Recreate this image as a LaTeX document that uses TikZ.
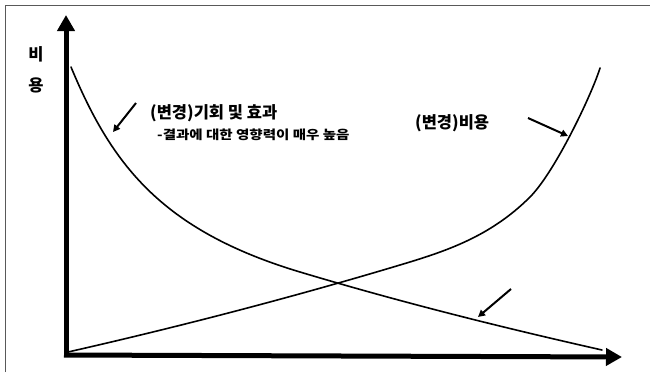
\documentclass[tikz,border=0pt]{standalone}
\usepackage{fontspec}
\usepackage{graphicx}
\setmainfont{Noto Sans CJK KR}[BoldFont={Noto Sans CJK KR Black}]
\usetikzlibrary{arrows.meta}
\begin{document}
\begin{tikzpicture}[x=1pt,y=-1pt,
  axis/.style={line width=5pt,-{Triangle[length=16pt,width=17pt]}},
  curve/.style={line width=1.6pt,line cap=round},
  pointer/.style={line width=2pt,-{Triangle[length=7pt,width=7pt]}},
  big/.style={font=\fontsize{16.5}{17}\selectfont\bfseries,inner sep=0pt},
  small/.style={font=\fontsize{12.5}{13}\selectfont\bfseries,inner sep=0pt},
  frame/.style={draw=black!65,line width=1pt}]
\useasboundingbox (0,0) rectangle (650,375);
\draw[frame] (5,372) -- (5,5) -- (650,5);
% axes
\coordinate (O) at (64,355);
\coordinate (Ybase) at (66,357);
\coordinate (Ytip) at (66,15);
\coordinate (Xtip) at (622,357);
\draw[axis] (Ybase) -- (Ytip);
\draw[axis] (O) -- (Xtip);
% curves
\coordinate (c1a) at (71,67);
\coordinate (c1b) at (300,272);
\coordinate (c1c) at (602,350);
\draw[curve] (c1a) .. controls (111,163) and (160,230) .. (c1b)
  .. controls (400,302) and (500,327) .. (c1c);
\coordinate (c2a) at (68,352);
\coordinate (c2b) at (400,265);
\coordinate (c2c) at (530,197);
\coordinate (c2d) at (600,68);
\draw[curve] (c2a) .. controls (178,327) and (290,298) .. (c2b)
  .. controls (445,251.5) and (490,237) .. (c2c)
  .. controls (555,172) and (592,94) .. (c2d);
% pointers
\coordinate (a1s) at (136,103); \coordinate (a1e) at (113,132);
\coordinate (a2s) at (528,118); \coordinate (a2e) at (568,136);
\coordinate (a3s) at (511,289); \coordinate (a3e) at (478,317);
\draw[pointer] (a1s) -- (a1e);
\draw[pointer] (a2s) -- (a2e);
\draw[pointer] (a3s) -- (a3e);
% labels
\node[big] (ylab1) at (36,54) {비};
\node[big] (ylab2) at (36,85) {용};
\node[big,anchor=west] (t1) at (150,113) {(변경)기회 및 효과};
\node[small,anchor=west] (t2) at (157,135) {\scalebox{1.16}[1]{-결과에 대한 영향력이 매우 높음}};
\node[big,anchor=west] (t3) at (415,123) {(변경)비용};
\end{tikzpicture}
\end{document}
